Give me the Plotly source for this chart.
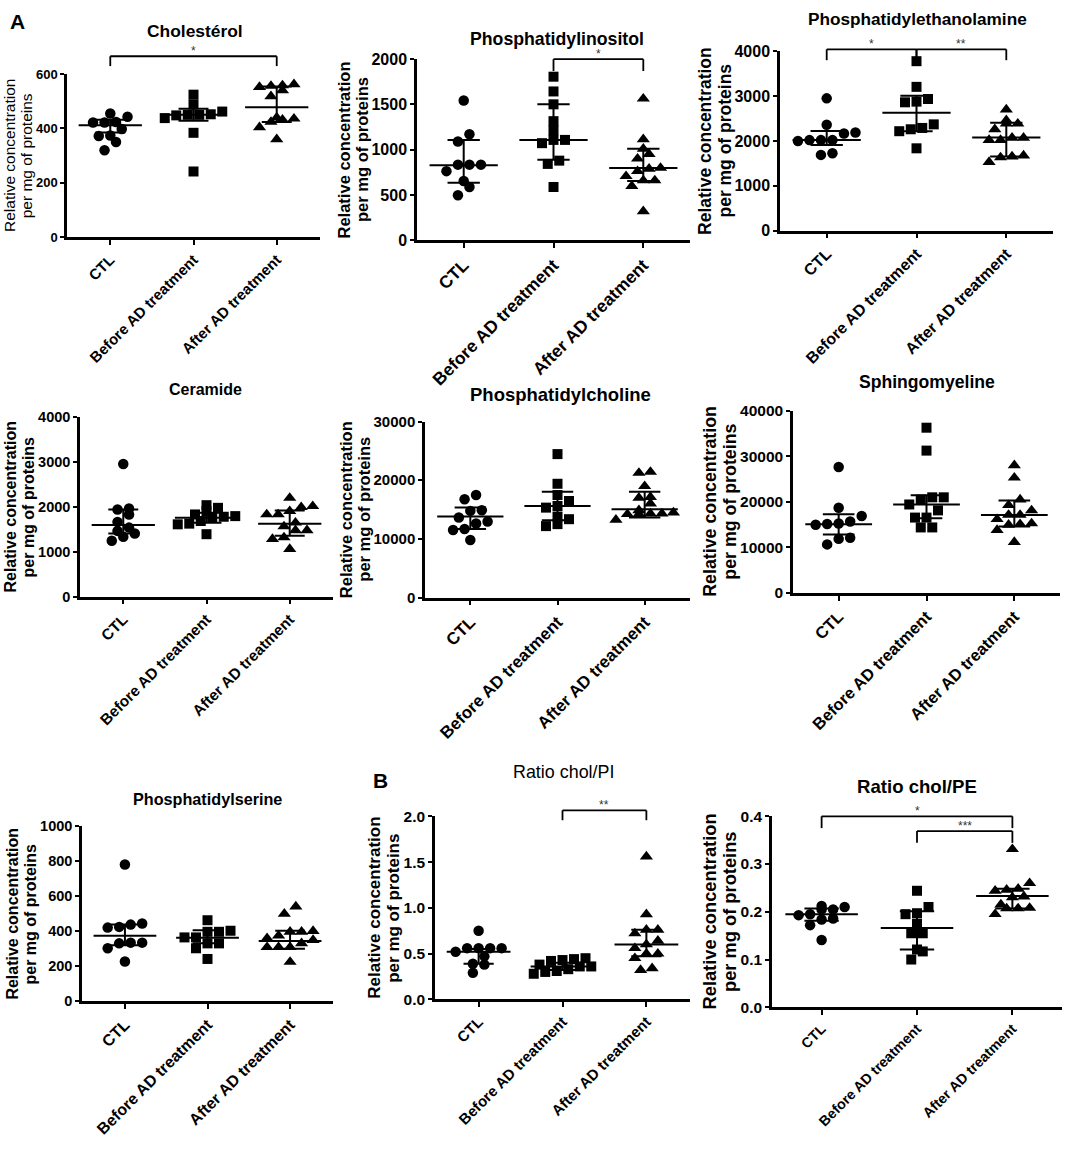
import plotly.graph_objects as go

W, H = 1065, 1161

groups = ["CTL", "Before AD treatment", "After AD treatment"]

# Cholesterol
chol_ctl = [455, 443, 424, 422, 422, 398, 374, 372, 350, 320]
chol_before = [524, 488, 462, 452, 450, 450, 448, 438, 384, 242]
chol_after = [562, 558, 556, 552, 540, 518, 440, 436, 432, 424, 404, 360]
chol_mid = [412, 450, 478]
chol_lo = [385, 428, 424]
chol_hi = [432, 472, 554]

# Phosphatidylinositol
pi_ctl = [1545, 1171, 1091, 836, 836, 836, 764, 655, 589, 498]
pi_before = [1807, 1644, 1502, 1316, 1214, 1109, 1109, 1073, 880, 844, 589]
pi_after = [1564, 1116, 1011, 953, 902, 800, 790, 764, 709, 662, 662, 600, 320]
pi_mid = [829, 1109, 800]
pi_lo = [636, 891, 655]
pi_hi = [1109, 1502, 1011]

# Phosphatidylethanolamine
pe_ctl = [2950, 2363, 2187, 2165, 2018, 2018, 2000, 2018, 1725, 1688]
pe_before = [3780, 3207, 2936, 2877, 2862, 2370, 2290, 2260, 2217, 1835]
pe_after = [2701, 2459, 2385, 2385, 2260, 2070, 2070, 2018, 2018, 1673, 1651, 1630, 1527]
pe_mid = [2018, 2628, 2077]
pe_lo = [1908, 2217, 1651]
pe_hi = [2224, 3009, 2407]

# Ceramide
cer_ctl = [2946, 1959, 1937, 1827, 1659, 1535, 1462, 1403, 1330, 1243]
cer_before = [2033, 1974, 1900, 1827, 1790, 1776, 1754, 1681, 1623, 1608, 1389]
cer_after = [2193, 2011, 1988, 1900, 1827, 1827, 1645, 1560, 1476, 1476, 1316, 1280, 1060]
cer_mid = [1594, 1754, 1623]
cer_lo = [1403, 1645, 1352]
cer_hi = [1937, 1864, 1915]

# Phosphatidylcholine
pc_ctl = [17480, 16750, 14890, 14780, 13650, 12980, 12640, 11690, 11520, 9830]
pc_before = [24450, 19400, 17480, 16470, 15620, 15340, 13820, 13370, 12530, 12190]
pc_after = [21410, 21240, 18990, 17140, 17020, 16020, 14890, 14500, 14330, 14330, 14220, 14220, 13260]
pc_mid = [13820, 15620, 15060]
pc_lo = [11690, 13200, 13650]
pc_hi = [15340, 18040, 18040]

# Sphingomyeline
sm_ctl = [27640, 18670, 16880, 15660, 15230, 15100, 14950, 12070, 11850, 10630]
sm_before = [36260, 31230, 20970, 20970, 20470, 19400, 18100, 16520, 16520, 14360, 14360]
sm_after = [28000, 25280, 20470, 19250, 18100, 17090, 17090, 16160, 15230, 15080, 14940, 13790, 11130]
sm_mid = [15080, 19390, 17090]
sm_lo = [12780, 16370, 14580]
sm_hi = [17230, 21400, 20250]

# Phosphatidylserine
ps_ctl = [781, 444, 438, 425, 421, 335, 335, 331, 303, 228]
ps_before = [463, 403, 397, 397, 365, 365, 331, 331, 303, 242]
ps_after = [541, 500, 401, 397, 397, 375, 360, 350, 331, 309, 309, 309, 225]
ps_mid = [375, 363, 345]
ps_lo = [320, 331, 300]
ps_hi = [438, 406, 403]

# Ratio chol/PI
rpi_ctl = [0.75, 0.56, 0.56, 0.56, 0.56, 0.52, 0.47, 0.39, 0.38, 0.29]
rpi_before = [0.45, 0.44, 0.43, 0.42, 0.38, 0.36, 0.36, 0.33, 0.31, 0.30, 0.28]
rpi_after = [1.56, 0.93, 0.76, 0.76, 0.72, 0.64, 0.60, 0.56, 0.50, 0.50, 0.45, 0.34, 0.32]
rpi_mid = [0.52, 0.36, 0.60]
rpi_lo = [0.39, 0.32, 0.47]
rpi_hi = [0.55, 0.40, 0.76]

# Ratio chol/PE
rpe_ctl = [0.212, 0.210, 0.205, 0.205, 0.195, 0.193, 0.186, 0.184, 0.172, 0.141]
rpe_before = [0.244, 0.210, 0.197, 0.195, 0.175, 0.155, 0.155, 0.121, 0.117, 0.100]
rpe_after = [0.331, 0.260, 0.248, 0.246, 0.244, 0.232, 0.230, 0.215, 0.208, 0.207, 0.207, 0.195]
rpe_mid = [0.195, 0.166, 0.233]
rpe_lo = [0.181, 0.121, 0.207]
rpe_hi = [0.207, 0.201, 0.248]

panels = [
    dict(title="Cholestérol", data=[chol_ctl, chol_before, chol_after],
         mid=chol_mid, lo=chol_lo, hi=chol_hi, ymax=600, dtick=200, fmt="d"),
    dict(title="Phosphatidylinositol", data=[pi_ctl, pi_before, pi_after],
         mid=pi_mid, lo=pi_lo, hi=pi_hi, ymax=2000, dtick=500, fmt="d"),
    dict(title="Phosphatidylethanolamine", data=[pe_ctl, pe_before, pe_after],
         mid=pe_mid, lo=pe_lo, hi=pe_hi, ymax=4000, dtick=1000, fmt="d"),
    dict(title="Ceramide", data=[cer_ctl, cer_before, cer_after],
         mid=cer_mid, lo=cer_lo, hi=cer_hi, ymax=4000, dtick=1000, fmt="d"),
    dict(title="Phosphatidylcholine", data=[pc_ctl, pc_before, pc_after],
         mid=pc_mid, lo=pc_lo, hi=pc_hi, ymax=30000, dtick=10000, fmt="d"),
    dict(title="Sphingomyeline", data=[sm_ctl, sm_before, sm_after],
         mid=sm_mid, lo=sm_lo, hi=sm_hi, ymax=40000, dtick=10000, fmt="d"),
    dict(title="Phosphatidylserine", data=[ps_ctl, ps_before, ps_after],
         mid=ps_mid, lo=ps_lo, hi=ps_hi, ymax=1000, dtick=200, fmt="d"),
    dict(title="Ratio chol/PI", data=[rpi_ctl, rpi_before, rpi_after],
         mid=rpi_mid, lo=rpi_lo, hi=rpi_hi, ymax=2.0, dtick=0.5, fmt=".1f"),
    dict(title="Ratio chol/PE", data=[rpe_ctl, rpe_before, rpe_after],
         mid=rpe_mid, lo=rpe_lo, hi=rpe_hi, ymax=0.4, dtick=0.1, fmt=".1f"),
]
ytitle_lines = ["Relative concentration", "per mg of proteins"]

# layout in page pixels: plot box (left, right, top, bottom) and title centre
boxes = [
    (67, 320, 66, 232), (417, 690, 51, 235), (780, 1053, 43, 225),
    (80, 333, 414, 597), (425, 690, 419, 598), (793, 1060, 408, 593),
    (82, 333, 830, 1008), (435, 690, 820, 1006), (772, 1062, 820, 1014),
]
title_pos = [(195, 22), (557, 30), (917, 10), (205, 386), (560, 392),
             (927, 379), (207, 802), (563, 775), (917, 790)]
title_weight = ["bold"] * 7 + ["normal", "bold"]
title_size = [17.4, 17.7, 17.2, 16, 18.5, 17.6, 16.2, 17.9, 18.6]
ytick_size = [13, 16, 16, 14.5, 15, 15.5, 14.5, 15.5, 15.5]
xtick_size = [15, 17.5, 16, 15.4, 17, 16.5, 16, 15, 14.2]
ytitle_size = [15.5, 16.5, 17.5, 16, 16.5, 17.8, 16, 17, 18.3]
TICKLEN = 4

# significance brackets: panel, from, to, label, bar y px, leg y px
brackets = [
    (0, 0, 2, "*", 48, 58),
    (1, 1, 2, "*", 51, 63),
    (2, 0, 1, "*", 41, 52),
    (2, 1, 2, "**", 41, 52),
    (7, 1, 2, "**", 814, 824),
    (8, 0, 2, "*", 820, 832),
    (8, 1, 2, "***", 835, 847),
]

symbols = ["circle", "square", "triangle-up"]
sizes = [10.5, 10, 11.5]
XR = [-0.52, 2.52]
FONT = "Liberation Sans, Arial, sans-serif"


def swarm(values, thr, step):
    order = sorted(range(len(values)), key=lambda i: values[i])
    rows, cur = [], []
    for i in order:
        if cur and values[i] - values[cur[0]] >= thr:
            rows.append(cur)
            cur = []
        cur.append(i)
    if cur:
        rows.append(cur)
    off = [0.0] * len(values)
    for row in rows:
        n = len(row)
        for k, i in enumerate(row):
            off[i] = (k - (n - 1) / 2) * step
    return off


def label_width(s, size):
    # rough Arial bold advance widths
    return sum(0.278 if c == "." else 0.556 for c in s) * size


fig = go.Figure()
annotations = []
shapes = []

for n, (p, box) in enumerate(zip(panels, boxes), start=1):
    left, right, top, bottom = box
    xa = "x" if n == 1 else f"x{n}"
    ya = "y" if n == 1 else f"y{n}"
    px_per_unit = (right - left) / (XR[1] - XR[0])
    thr = 9 * p["ymax"] / (bottom - top)
    step = 11.5 / px_per_unit

    for g, vals in enumerate(p["data"]):
        off = swarm(vals, thr, step)
        fig.add_trace(go.Scatter(
            x=[g + o for o in off], y=vals, mode="markers",
            marker=dict(symbol=symbols[g], size=sizes[g], color="black"),
            xaxis=xa, yaxis=ya, showlegend=False, cliponaxis=False,
            hovertemplate=groups[g] + ": %{y}<extra></extra>",
        ))
        m, lo, hi = p["mid"][g], p["lo"][g], p["hi"][g]
        fig.add_trace(go.Scatter(
            x=[g - 0.38, g + 0.38, None, g - 0.18, g + 0.18, None,
               g - 0.18, g + 0.18, None, g, g],
            y=[m, m, None, hi, hi, None, lo, lo, None, lo, hi],
            mode="lines", line=dict(color="black", width=2),
            xaxis=xa, yaxis=ya, showlegend=False, hoverinfo="skip",
            cliponaxis=False,
        ))

    ticks = []
    v = 0.0
    while v <= p["ymax"] + 1e-9:
        ticks.append(round(v, 6))
        v += p["dtick"]

    k = n - 1
    fig.layout[f"xaxis{'' if n == 1 else n}"] = dict(
        domain=[left / W, right / W], anchor=ya, range=XR,
        tickvals=[0, 1, 2], ticktext=groups, tickangle=-45,
        tickfont=dict(family=FONT, size=xtick_size[k], color="black", weight="bold"),
        showline=True, linecolor="black", linewidth=2.5, ticks="outside",
        ticklen=TICKLEN + 1, tickwidth=2, tickcolor="black", showgrid=False, zeroline=False,
    )
    fig.layout[f"yaxis{'' if n == 1 else n}"] = dict(
        domain=[1 - bottom / H, 1 - top / H], anchor=xa, range=[0, p["ymax"]],
        tickvals=ticks, tickformat=p["fmt"],
        tickfont=dict(family=FONT, size=ytick_size[k], color="black", weight="bold"),
        showline=True, linecolor="black", linewidth=2.5, ticks="outside",
        ticklen=TICKLEN, tickwidth=2, tickcolor="black", showgrid=False, zeroline=False,
    )

    # two-line y title placed just left of the widest tick label
    lab_w = max(label_width(format(t, p["fmt"]) if p["fmt"] != "d" else str(int(t)),
                            ytick_size[k]) for t in ticks)
    fs = ytitle_size[k]
    c2 = left - TICKLEN - 3 - lab_w - 3 - 0.56 * fs
    c1 = c2 - 1.12 * fs
    for text, cx in zip(ytitle_lines, (c1, c2)):
        annotations.append(dict(
            text=text, x=cx / W, y=0.5, xref="paper", yref=ya + " domain",
            showarrow=False, xanchor="center", yanchor="middle", textangle=-90,
            font=dict(family=FONT, size=fs, color="black",
                      weight="normal" if n == 1 else "bold"),
        ))

    tx, ty = title_pos[k]
    annotations.append(dict(
        text=p["title"], x=tx / W, y=1 - ty / H, xref="paper", yref="paper",
        showarrow=False, xanchor="center", yanchor="middle",
        font=dict(family=FONT, size=title_size[k], color="black", weight=title_weight[k]),
    ))

for pi_, a, b, label, ybar, yleg in brackets:
    left, right, top, bottom = boxes[pi_]
    n = pi_ + 1
    xa = "x" if n == 1 else f"x{n}"
    yd = ("y" if n == 1 else f"y{n}") + " domain"
    hb = (bottom - ybar) / (bottom - top)
    hl = (bottom - yleg) / (bottom - top)
    line = dict(color="black", width=1.8)
    shapes.append(dict(type="line", xref=xa, yref=yd, x0=a, x1=b, y0=hb, y1=hb, line=line))
    shapes.append(dict(type="line", xref=xa, yref=yd, x0=a, x1=a, y0=hb, y1=hl, line=line))
    shapes.append(dict(type="line", xref=xa, yref=yd, x0=b, x1=b, y0=hb, y1=hl, line=line))
    annotations.append(dict(
        text=label, x=(a + b) / 2, y=hb, xref=xa, yref=yd, showarrow=False,
        xanchor="center", yanchor="bottom", yshift=-4,
        font=dict(family=FONT, size=12, color="#333333"),
    ))

for label, x, y in [("A", 18, 13), ("B", 380, 784)]:
    annotations.append(dict(
        text=label, x=x / W, y=1 - y / H, xref="paper", yref="paper",
        showarrow=False, xanchor="center", yanchor="middle",
        font=dict(family=FONT, size=21, color="black", weight="bold"),
    ))

fig.update_layout(
    width=W, height=H, margin=dict(l=0, r=0, t=0, b=0),
    paper_bgcolor="white", plot_bgcolor="white",
    annotations=annotations, shapes=shapes,
)

fig.write_html(
    "out.html",
    config={"displayModeBar": False},
    post_script="document.body.style.margin='0';document.body.style.overflow='hidden';",
)
